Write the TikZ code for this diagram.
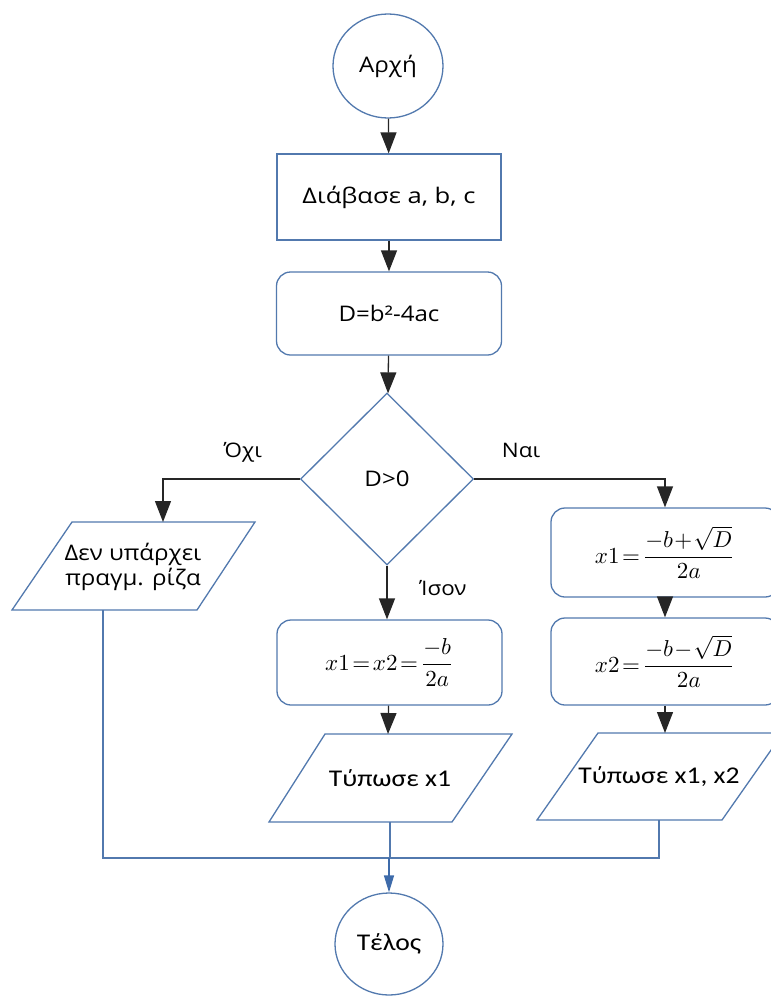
\documentclass[tikz,border=0pt]{standalone}
\usepackage{amsmath}
\usepackage{graphicx}
\usepackage{fontspec}
\setmainfont{Open Sans}[FakeStretch=1.12]
\newfontfamily\wideos{Open Sans}[FakeStretch=1.19]
\newfontfamily\carl{Carlito}[FakeStretch=1.15]
\usetikzlibrary{shapes.geometric,arrows.meta}
\definecolor{shapeblue}{HTML}{5279AE}
\definecolor{arrowblue}{HTML}{3E6BAA}
\newcommand{\bigmath}[1]{\scalebox{2.3}{$#1$}}
\tikzset{
  shp/.style={draw=shapeblue, line width=1.3pt, fill=white, align=center, inner sep=0pt},
  term/.style={shp, ellipse},
  procbox/.style={shp, rectangle, minimum width=224pt, minimum height=86pt},
  roundbox/.style={shp, rectangle, rounded corners=14pt},
  decbox/.style={shp, diamond, minimum width=173pt, minimum height=172pt},
  para/.style={draw=shapeblue, line width=1.3pt, fill=white},
  conn/.style={draw=black!85, line width=1.3pt, -{Triangle[length=21pt,width=16pt]}},
  plain/.style={draw=shapeblue, line width=1.3pt},
  lbl/.style={font=\fontsize{20}{24}\selectfont},
  txt/.style={font=\fontsize{21.5}{25}\selectfont, align=center},
  wtxt/.style={font=\wideos\fontsize{21.5}{25}\selectfont, align=center},
  ctxt/.style={font=\carl\fontsize{24}{28}\selectfont, align=center},
  mtxt/.style={font=\fontsize{10}{12}\selectfont}
}
\begin{document}
\begin{tikzpicture}[x=1pt,y=-1pt]
\useasboundingbox (0,0) rectangle (771,999);

% start
\node[term, minimum width=110pt, minimum height=104pt, txt] (start) at (388,66) {Αρχή};
% read
\node[procbox, wtxt] (read) at (389,197) {Διάβασε a, b, c};
% compute D
\node[roundbox, minimum width=225pt, minimum height=83pt, txt] (calc) at (389,313.5) {D=b²-4ac};
% decision
\node[decbox, txt] (dec) at (387,479) {D>0};

% left parallelogram
\draw[para] (72,522) -- (255,522) -- (197,610) -- (12,610) -- cycle;
\node[txt] (none) at (133,567) {Δεν υπάρχει\\πραγμ. ρίζα};
\coordinate (noneTop) at (163,522);
\coordinate (noneBot) at (103,610);

% middle column
\node[roundbox, minimum width=225pt, minimum height=85pt, mtxt] (eq) at (389.5,662.5) {\bigmath{x1\!=\!x2\!=\!\dfrac{-b}{2a}}};
\draw[para] (325,734) -- (512,734) -- (452,822) -- (269,822) -- cycle;
\node[ctxt] (pr1) at (390,778) {Τύπωσε x1};
\coordinate (pr1Top) at (388,734);
\coordinate (pr1Bot) at (390,822);

% right column
\node[roundbox, minimum width=228pt, minimum height=89pt, mtxt] (r1) at (665,552.5) {\bigmath{x1\!=\!\dfrac{-b\!+\!\sqrt{D}}{2a}}};
\node[roundbox, minimum width=228pt, minimum height=87pt, mtxt] (r2) at (665,661.5) {\bigmath{x2\!=\!\dfrac{-b\!-\!\sqrt{D}}{2a}}};
\draw[para] (598,733) -- (783,733) -- (722,820) -- (537,820) -- cycle;
\node[ctxt] (pr2) at (659,777) {Τύπωσε x1, x2};
\coordinate (pr2Top) at (665,733);
\coordinate (pr2Bot) at (659,820);

% end
\node[term, minimum width=108pt, minimum height=102pt, ctxt] (stop) at (389,944) {Τέλος};

% connectors
\draw[conn] (start) -- (read);
\draw[conn] (read) -- (calc);
\draw[conn] (calc) -- (dec);
\draw[conn] (dec.west) -| (noneTop);
\draw[conn] (dec.east) -| (r1.north);
\draw[conn] (dec.south) -- (eq.north -| dec.south);
\draw[conn] (r1) -- (r2);
\draw[conn] (r2) -- (pr2Top);
\draw[conn] (eq) -- (pr1Top);

% labels
\node[lbl] (no) at (243,452) {Όχι};
\node[lbl] (yes) at (521,450) {Ναι};
\node[lbl] (eqlbl) at (443,588) {Ίσον};

% merge lines
\coordinate (join) at (389,858);
\draw[plain] (noneBot) |- (join);
\draw[plain] (pr1Bot) |- (join);
\draw[plain] (pr2Bot) |- (join);
\draw[draw=arrowblue, line width=1.5pt, -{Triangle[length=17pt,width=10pt]}] (join) -- (stop.north);
\end{tikzpicture}
\end{document}
